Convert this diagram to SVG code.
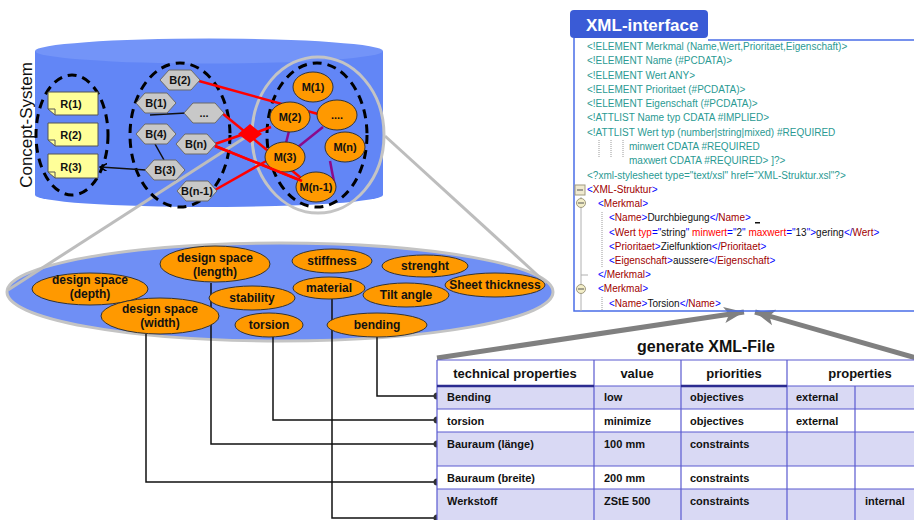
<svg xmlns="http://www.w3.org/2000/svg" xmlns:xlink="http://www.w3.org/1999/xlink" width="914" height="520" viewBox="0 0 914 520">
  <style>
    text { font-family: "Liberation Sans", Arial, sans-serif; }
    .hex { fill: #c8c8c8; stroke: #6b6b6b; stroke-width: 1; }
    .hl { font-size: 11px; font-weight: bold; fill: #111; text-anchor: middle; }
    .orange { fill: #ff9900; stroke: #333; stroke-width: 1; }
    .ol { font-size: 12px; font-weight: bold; fill: #111; text-anchor: middle; }
    .note { fill: #ffff99; stroke: #555; stroke-width: 1; }
    .dash { fill: none; stroke: #000; stroke-width: 3; stroke-dasharray: 9 6; }
    .red { stroke: #ff0000; stroke-width: 2.5; fill: none; }
    .purple { stroke: #8b0a8b; stroke-width: 2.5; fill: none; }
    .wire { stroke: #111; stroke-width: 1.5; fill: none; }
    .cone { stroke: #bdbdbd; stroke-width: 3; fill: none; }
    .xml { font-size: 10px; fill: #2a9a93; }
    .b { fill: #0000ff; }
    .t { fill: #a00000; }
    .a { fill: #ff0000; }
    .k { fill: #111; }
    .grid { stroke: #5a5ad0; stroke-width: 1.2; fill: none; }
    .th { font-size: 13px; font-weight: bold; fill: #111; text-anchor: middle; }
    .td { font-size: 11px; font-weight: bold; fill: #111; }
  </style>
  <defs>
    <polygon id="hexShape" class="hex" points="-20,0 -11,-10 11,-10 20,0 11,10 -11,10"/>
    <marker id="dot" markerWidth="8" markerHeight="8" refX="4" refY="4" markerUnits="userSpaceOnUse">
      <circle cx="4" cy="4" r="3.5" fill="#333"/>
    </marker>
    <marker id="bigArrow" markerWidth="22" markerHeight="18" refX="20" refY="9" orient="auto" markerUnits="userSpaceOnUse">
      <path d="M0,1 L20,9 L0,17 L5,9 Z" fill="#808080"/>
    </marker>
    <marker id="smallArrow" markerWidth="8" markerHeight="8" refX="7" refY="4" orient="auto" markerUnits="userSpaceOnUse">
      <path d="M0,0 L7,4 L0,8" fill="none" stroke="#000" stroke-width="1.5"/>
    </marker>
  </defs>

  <rect x="0" y="0" width="914" height="520" fill="#ffffff"/>

  <!-- concept system cylinder -->
  <g id="cylinder">
    <path d="M35,51 L35,195 A174,12 0 0 0 383,195 L383,51 Z" fill="#6286f6"/>
    <ellipse cx="209" cy="51" rx="174" ry="12.5" fill="#7394f8"/>
  </g>
  <text id="concept-label" x="0" y="0" transform="translate(32,125) rotate(-90)" font-size="17" text-anchor="middle" fill="#111">Concept-System</text>

  <!-- large flat ellipse with property nodes -->
  <g id="property-space">
    <ellipse cx="280" cy="292" rx="273" ry="49" fill="#6f8ff5" stroke="#c4c4c4" stroke-width="3"/>
  </g>

  <!-- zoom cone lines -->
  <g id="cone">
    <line class="cone" x1="252" y1="133" x2="8" y2="290"/>
    <line class="cone" x1="385" y1="136" x2="546" y2="283"/>
  </g>

  <!-- groups inside the cylinder -->
  <g id="groups">
    <ellipse class="dash" cx="72" cy="135" rx="36" ry="60"/>
    <ellipse class="dash" cx="180" cy="135" rx="50" ry="72"/>
    <ellipse cx="318" cy="135" rx="66" ry="78" fill="none" stroke="#c4c4c4" stroke-width="3"/>
    <ellipse class="dash" cx="317" cy="135" rx="50" ry="72"/>
  </g>

  <!-- connectors -->
  <g id="connectors">
    <line class="wire" x1="150" y1="115" x2="186" y2="113" stroke-width="1"/>
    <line class="wire" x1="155" y1="144" x2="164" y2="160" stroke-width="1"/>
    <line class="wire" x1="146" y1="170" x2="100" y2="167" stroke-width="2" marker-end="url(#smallArrow)"/>
    <line class="red" x1="199" y1="81" x2="318" y2="114"/>
    <line class="red" x1="222" y1="113" x2="301" y2="178"/>
    <line class="red" x1="215" y1="144" x2="244" y2="134"/>
    <line class="red" x1="215" y1="146" x2="302" y2="181"/>
    <line class="red" x1="255" y1="133" x2="271" y2="127"/>
    <line class="red" x1="215" y1="190" x2="268" y2="160"/>
    <polygon points="238,134 250,124 262,134 250,143" fill="#ff0000"/>
    <line class="purple" x1="289" y1="131" x2="286" y2="143"/>
    <line class="purple" x1="323" y1="127" x2="298" y2="147"/>
    <line class="purple" x1="330" y1="161" x2="335" y2="187"/>

    <polyline class="wire" points="377,337 377,396 437,396" marker-end="url(#dot)"/>
    <polyline class="wire" points="273,337 273,420 437,420" marker-end="url(#dot)"/>
    <polyline class="wire" points="211,283 211,444 437,444" marker-end="url(#dot)"/>
    <polyline class="wire" points="146,334 146,482 437,482" marker-end="url(#dot)"/>
    <polyline class="wire" points="332,299 332,518 437,518" marker-end="url(#dot)"/>

    <line x1="437" y1="358" x2="744" y2="312" stroke="#808080" stroke-width="5" marker-end="url(#bigArrow)"/>
    <line x1="916" y1="358" x2="755" y2="312" stroke="#808080" stroke-width="5" marker-end="url(#bigArrow)"/>
  </g>

  <!-- requirement notes -->
  <g id="R1">
    <path class="note" d="M48,92 H98 V115 H55 L48,109 Z"/>
    <path d="M48,109 L55,109 L55,115" fill="none" stroke="#555"/>
    <text class="hl" x="71" y="108">R(1)</text>
  </g>
  <g id="R2">
    <path class="note" d="M48,123 H98 V146 H55 L48,140 Z"/>
    <path d="M48,140 L55,140 L55,146" fill="none" stroke="#555"/>
    <text class="hl" x="71" y="139">R(2)</text>
  </g>
  <g id="R3">
    <path class="note" d="M48,154 H98 V178 H55 L48,172 Z"/>
    <path d="M48,172 L55,172 L55,178" fill="none" stroke="#555"/>
    <text class="hl" x="71" y="171">R(3)</text>
  </g>

  <!-- B hexagons -->
  <g id="B2"><use xlink:href="#hexShape" href="#hexShape" x="180" y="80"/><text class="hl" x="180" y="84">B(2)</text></g>
  <g id="B1"><use xlink:href="#hexShape" href="#hexShape" x="156" y="103"/><text class="hl" x="156" y="107">B(1)</text></g>
  <g id="Bdots"><use xlink:href="#hexShape" href="#hexShape" x="204" y="113"/><text class="hl" x="204" y="117">...</text></g>
  <g id="B4"><use xlink:href="#hexShape" href="#hexShape" x="156" y="134"/><text class="hl" x="156" y="138">B(4)</text></g>
  <g id="Bn"><use xlink:href="#hexShape" href="#hexShape" x="196" y="144"/><text class="hl" x="196" y="148">B(n)</text></g>
  <g id="B3"><use xlink:href="#hexShape" href="#hexShape" x="165" y="170"/><text class="hl" x="165" y="174">B(3)</text></g>
  <g id="Bn-1"><use xlink:href="#hexShape" href="#hexShape" x="197" y="191"/><text class="hl" x="197" y="195">B(n-1)</text></g>

  <!-- M nodes -->
  <g id="M1"><ellipse class="orange" cx="313" cy="87" rx="20" ry="15"/><text class="hl" x="313" y="91">M(1)</text></g>
  <g id="M2"><ellipse class="orange" cx="290" cy="117" rx="20" ry="15"/><text class="hl" x="290" y="121">M(2)</text></g>
  <g id="Mdots"><ellipse class="orange" cx="337" cy="115" rx="20" ry="15"/><text class="hl" x="337" y="119">....</text></g>
  <g id="Mn"><ellipse class="orange" cx="345" cy="147" rx="20" ry="15"/><text class="hl" x="345" y="151">M(n)</text></g>
  <g id="M3"><ellipse class="orange" cx="285" cy="157" rx="20" ry="15"/><text class="hl" x="285" y="161">M(3)</text></g>
  <g id="Mn-1"><ellipse class="orange" cx="316" cy="187" rx="20" ry="15"/><text class="hl" x="316" y="191">M(n-1)</text></g>
  <!-- red lines pass over M(3) -->
  <line class="red" x1="215" y1="146" x2="302" y2="181"/>

  <!-- property nodes -->
  <g id="p-depth"><ellipse class="orange" cx="90" cy="289" rx="58" ry="16"/><text class="ol" x="90" y="284">design space</text><text class="ol" x="90" y="298">(depth)</text></g>
  <g id="p-length"><ellipse class="orange" cx="215" cy="264" rx="55" ry="18"/><text class="ol" x="215" y="262">design space</text><text class="ol" x="215" y="276">(length)</text></g>
  <g id="p-stability"><ellipse class="orange" cx="252" cy="298" rx="43" ry="12"/><text class="ol" x="252" y="302">stability</text></g>
  <g id="p-width"><ellipse class="orange" cx="160" cy="316" rx="59" ry="18"/><text class="ol" x="160" y="313">design space</text><text class="ol" x="160" y="327">(width)</text></g>
  <g id="p-torsion"><ellipse class="orange" cx="269" cy="325" rx="34" ry="12"/><text class="ol" x="269" y="329">torsion</text></g>
  <g id="p-stiffness"><ellipse class="orange" cx="332" cy="261" rx="40" ry="12"/><text class="ol" x="332" y="265">stiffness</text></g>
  <g id="p-strenght"><ellipse class="orange" cx="425" cy="266" rx="43" ry="11"/><text class="ol" x="425" y="270">strenght</text></g>
  <g id="p-material"><ellipse class="orange" cx="329" cy="288" rx="36" ry="11"/><text class="ol" x="329" y="292">material</text></g>
  <g id="p-tilt"><ellipse class="orange" cx="406" cy="295" rx="43" ry="12"/><text class="ol" x="406" y="299">Tilt angle</text></g>
  <g id="p-sheet"><ellipse class="orange" cx="495" cy="285" rx="50" ry="12"/><text class="ol" x="495" y="289">Sheet thickness</text></g>
  <g id="p-bending"><ellipse class="orange" cx="377" cy="325" rx="50" ry="12"/><text class="ol" x="377" y="329">bending</text></g>

  <!-- XML interface panel -->
  <g id="xml-interface">
    <path d="M574,38 V311 H914 M708,40 H914" fill="none" stroke="#4a6ee8" stroke-width="1.5"/>
    <rect x="570" y="10" width="138" height="28" rx="4" fill="#3a5bd6"/>
    <text x="586" y="31" font-size="17" font-weight="bold" fill="#ffffff">XML-interface</text>

    <g stroke="#9a9a9a" stroke-width="1" stroke-dasharray="1 1">
      <line x1="599" y1="140" x2="599" y2="158"/>
      <line x1="611" y1="140" x2="611" y2="158"/>
      <line x1="623" y1="140" x2="623" y2="158"/>
      <line x1="602" y1="212" x2="602" y2="268"/>
      <line x1="602" y1="297" x2="602" y2="311"/>
    </g>
    <line x1="581" y1="197" x2="581" y2="311" stroke="#b0b0b0"/>
    <line x1="581" y1="275" x2="588" y2="275" stroke="#b0b0b0"/>
    <rect x="575" y="185" width="10" height="10" fill="#f0ead0" stroke="#a09a80"/>
    <line x1="577" y1="190" x2="583" y2="190" stroke="#555"/>
    <circle cx="581" cy="203" r="4.5" fill="#f3eec8" stroke="#a09a80"/>
    <line x1="578" y1="203" x2="584" y2="203" stroke="#555"/>
    <circle cx="581" cy="289" r="4.5" fill="#f3eec8" stroke="#a09a80"/>
    <line x1="578" y1="289" x2="584" y2="289" stroke="#555"/>

    <text class="xml" x="587" y="50">&lt;!ELEMENT Merkmal (Name,Wert,Prioritaet,Eigenschaft)&gt;</text>
    <text class="xml" x="587" y="64">&lt;!ELEMENT Name (#PCDATA)&gt;</text>
    <text class="xml" x="587" y="79">&lt;!ELEMENT Wert ANY&gt;</text>
    <text class="xml" x="587" y="93">&lt;!ELEMENT Prioritaet (#PCDATA)&gt;</text>
    <text class="xml" x="587" y="107">&lt;!ELEMENT Eigenschaft (#PCDATA)&gt;</text>
    <text class="xml" x="587" y="121">&lt;!ATTLIST Name typ CDATA #IMPLIED&gt;</text>
    <text class="xml" x="587" y="136">&lt;!ATTLIST Wert typ (number|string|mixed) #REQUIRED</text>
    <text class="xml" x="629" y="150">minwert CDATA #REQUIRED</text>
    <text class="xml" x="629" y="164">maxwert CDATA #REQUIRED&gt; ]?&gt;</text>
    <text class="xml" x="587" y="179">&lt;?xml-stylesheet type="text/xsl" href="XML-Struktur.xsl"?&gt;</text>
    <text class="xml" x="587" y="193"><tspan class="b">&lt;</tspan><tspan class="t">XML-Struktur</tspan><tspan class="b">&gt;</tspan></text>
    <text class="xml" x="598" y="207"><tspan class="b">&lt;</tspan><tspan class="t">Merkmal</tspan><tspan class="b">&gt;</tspan></text>
    <text class="xml" x="609" y="221"><tspan class="b">&lt;</tspan><tspan class="t">Name</tspan><tspan class="b">&gt;</tspan><tspan class="k">Durchbiegung</tspan><tspan class="b">&lt;/</tspan><tspan class="t">Name</tspan><tspan class="b">&gt;</tspan></text>
    <rect x="755" y="222" width="5" height="1.5" fill="#111"/>
    <text class="xml" x="609" y="236"><tspan class="b">&lt;</tspan><tspan class="t">Wert </tspan><tspan class="a">typ</tspan><tspan class="b">="</tspan><tspan class="k">string</tspan><tspan class="b">" </tspan><tspan class="a">minwert</tspan><tspan class="b">="</tspan><tspan class="k">2</tspan><tspan class="b">" </tspan><tspan class="a">maxwert</tspan><tspan class="b">="</tspan><tspan class="k">13</tspan><tspan class="b">"&gt;</tspan><tspan class="k">gering</tspan><tspan class="b">&lt;/</tspan><tspan class="t">Wert</tspan><tspan class="b">&gt;</tspan></text>
    <text class="xml" x="609" y="250"><tspan class="b">&lt;</tspan><tspan class="t">Prioritaet</tspan><tspan class="b">&gt;</tspan><tspan class="k">Zielfunktion</tspan><tspan class="b">&lt;/</tspan><tspan class="t">Prioritaet</tspan><tspan class="b">&gt;</tspan></text>
    <text class="xml" x="609" y="264"><tspan class="b">&lt;</tspan><tspan class="t">Eigenschaft</tspan><tspan class="b">&gt;</tspan><tspan class="k">aussere</tspan><tspan class="b">&lt;/</tspan><tspan class="t">Eigenschaft</tspan><tspan class="b">&gt;</tspan></text>
    <text class="xml" x="598" y="278"><tspan class="b">&lt;/</tspan><tspan class="t">Merkmal</tspan><tspan class="b">&gt;</tspan></text>
    <text class="xml" x="598" y="292"><tspan class="b">&lt;</tspan><tspan class="t">Merkmal</tspan><tspan class="b">&gt;</tspan></text>
    <text class="xml" x="609" y="307"><tspan class="b">&lt;</tspan><tspan class="t">Name</tspan><tspan class="b">&gt;</tspan><tspan class="k">Torsion</tspan><tspan class="b">&lt;/</tspan><tspan class="t">Name</tspan><tspan class="b">&gt;</tspan></text>
  </g>

  <!-- generated XML table -->
  <g id="xml-table">
    <text x="706" y="352" font-size="16" font-weight="bold" text-anchor="middle" fill="#111">generate XML-File</text>
    <rect x="437" y="360" width="477" height="26" fill="#ffffff"/>
    <rect x="437" y="386" width="477" height="23" fill="#d9d9f4"/>
    <rect x="437" y="409" width="477" height="23" fill="#ffffff"/>
    <rect x="437" y="432" width="477" height="34" fill="#d9d9f4"/>
    <rect x="437" y="466" width="477" height="23" fill="#ffffff"/>
    <rect x="437" y="489" width="477" height="31" fill="#d9d9f4"/>
    <path class="grid" d="M437,360 H914 M437,386 H914 M437,409 H914 M437,432 H914 M437,466 H914 M437,489 H914 M437,360 V520 M594,360 V520 M681,360 V520 M787,360 V520 M855,386 V520"/>
    <path d="M437,386 H594 M681,386 H787" stroke="#2b2b90" stroke-width="2.5"/>
    <text class="th" x="515" y="378">technical properties</text>
    <text class="th" x="637" y="378">value</text>
    <text class="th" x="734" y="378">priorities</text>
    <text class="th" x="860" y="378">properties</text>

    <text class="td" x="447" y="401">Bending</text>
    <text class="td" x="604" y="401">low</text>
    <text class="td" x="690" y="401">objectives</text>
    <text class="td" x="796" y="401">external</text>

    <text class="td" x="447" y="425">torsion</text>
    <text class="td" x="604" y="425">minimize</text>
    <text class="td" x="690" y="425">objectives</text>
    <text class="td" x="796" y="425">external</text>

    <text class="td" x="447" y="448">Bauraum (länge)</text>
    <text class="td" x="604" y="448">100 mm</text>
    <text class="td" x="690" y="448">constraints</text>

    <text class="td" x="447" y="482">Bauraum (breite)</text>
    <text class="td" x="604" y="482">200 mm</text>
    <text class="td" x="690" y="482">constraints</text>

    <text class="td" x="447" y="505">Werkstoff</text>
    <text class="td" x="604" y="505">ZStE 500</text>
    <text class="td" x="690" y="505">constraints</text>
    <text class="td" x="865" y="505">internal</text>
  </g>
</svg>
